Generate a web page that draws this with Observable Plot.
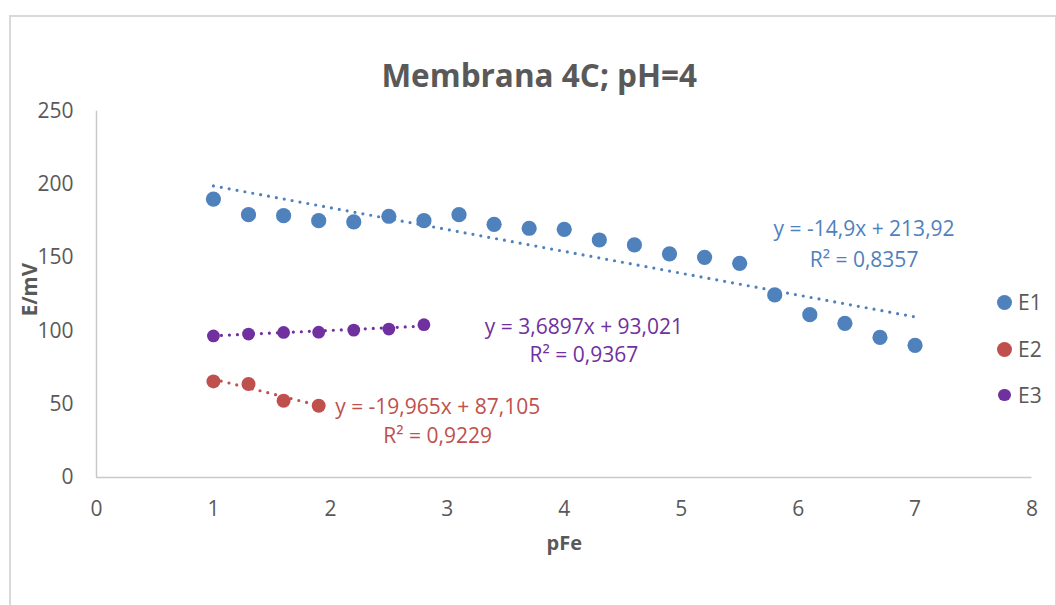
<!DOCTYPE html>
<html>
<head>
<meta charset="utf-8">
<script src="https://cdn.jsdelivr.net/npm/d3@7"></script>
<script src="https://cdn.jsdelivr.net/npm/@observablehq/plot@0.6"></script>
<style>
  html, body { margin: 0; padding: 0; background: #fff; }
  #wrap { position: relative; width: 1056px; height: 605px; overflow: hidden; font-family: "Open Sans", sans-serif; }
  #border { position: absolute; left: 9px; top: 15px; width: 1044px; height: 640px; border: 2px solid #d9d9d9; }
  #chart { position: absolute; left: 0; top: 0; }
  .leg { position: absolute; left: 0; top: 0; font-size: 21px; color: #595959; }
  .leg .sw { position: absolute; border-radius: 50%; }
  .leg .lab { position: absolute; transform: translateY(-50%); line-height: 1; }
</style>
</head>
<body>
<div id="wrap">
  <div id="border"></div>
  <div id="chart"></div>
  <div class="leg" id="legend"></div>
</div>
<script>
// ---------- data ----------
const title = "Membrana 4C; pH=4";
const xLabel = "pFe";
const yLabel = "E/mV";
const seriesNames = ["E1", "E2", "E3"];
const seriesColors = ["#4f81bd", "#c0504d", "#7030a0"];

const pFe_E1 = [1, 1.3, 1.6, 1.9, 2.2, 2.5, 2.8, 3.1, 3.4, 3.7, 4.0, 4.3, 4.6, 4.9, 5.2, 5.5, 5.8, 6.1, 6.4, 6.7, 7.0];
const E1 = [190, 179.4, 178.7, 175.3, 174.4, 178.3, 175.3, 179.4, 172.8, 170.1, 169.4, 162.1, 158.7, 152.6, 150.3, 146.2, 124.6, 111.1, 105.2, 95.6, 90.2];

const pFe_E2 = [1, 1.3, 1.6, 1.9];
const E2 = [65.6, 63.8, 52.4, 49.0];

const pFe_E3 = [1, 1.3, 1.6, 1.9, 2.2, 2.5, 2.8];
const E3 = [96.6, 97.9, 99.0, 99.2, 100.6, 101.3, 104.3];

// trendlines (linear, as labelled)
const trendSlope = [-14.9, -19.965, 3.6897];
const trendIntercept = [213.92, 87.105, 93.021];
const trendEq = ["y = -14,9x + 213,92", "y = -19,965x + 87,105", "y = 3,6897x + 93,021"];
const trendR2 = ["R² = 0,8357", "R² = 0,9229", "R² = 0,9367"];

const xTicks = [0, 1, 2, 3, 4, 5, 6, 7, 8];
const yTicks = [0, 50, 100, 150, 200, 250];

// ---------- build tables ----------
const xs = [pFe_E1, pFe_E2, pFe_E3];
const ys = [E1, E2, E3];
const points = seriesNames.map((s, i) => xs[i].map((x, j) => ({series: s, pFe: x, E: ys[i][j]})));
const trends = seriesNames.map((s, i) => {
  const x0 = d3.min(xs[i]), x1 = d3.max(xs[i]);
  return [x0, x1].map(x => ({series: s, pFe: x, E: trendSlope[i] * x + trendIntercept[i]}));
});
const trendEnds = trends.map((t, i) => ({...t[1], eq: trendEq[i], r2: trendR2[i]}));

// layout (label offsets from trend end, pixels)
const labelOffset = [
  {dx: -51, dy1: -88, dy2: -57},
  {dx: 119, dy1: 2, dy2: 30.5},
  {dx: 160, dy1: 1.3, dy2: 29.3}
];
const dotR = [7.6, 7.0, 6.4];
const txt = "#595959";

const marks = [
  Plot.ruleX([0], {stroke: "#c9c9c9", strokeWidth: 1.5}),
  Plot.ruleY([0], {stroke: "#c9c9c9", strokeWidth: 1.5}),
  Plot.axisX({ticks: xTicks, tickSize: 0, tickPadding: 24, fontSize: 21, fill: txt, label: null, tickFormat: d => String(d)}),
  Plot.axisY({ticks: yTicks, tickSize: 0, tickPadding: 23, fontSize: 21, fill: txt, label: null, tickFormat: d => String(d)}),
];
seriesNames.forEach((s, i) => {
  marks.push(Plot.dot(points[i], {x: "pFe", y: "E", r: dotR[i], fill: seriesColors[i], stroke: "none"}));
});
seriesNames.forEach((s, i) => {
  marks.push(Plot.line(trends[i], {x: "pFe", y: "E", stroke: seriesColors[i], strokeWidth: 3.2, strokeDasharray: "0 8", strokeLinecap: "round"}));
});
seriesNames.forEach((s, i) => {
  const o = labelOffset[i];
  marks.push(Plot.text([trendEnds[i]], {x: "pFe", y: "E", text: "eq", fill: seriesColors[i], fontSize: 21, dx: o.dx, dy: o.dy1, textAnchor: "middle"}));
  marks.push(Plot.text([trendEnds[i]], {x: "pFe", y: "E", text: "r2", fill: seriesColors[i], fontSize: 21, dx: o.dx, dy: o.dy2, textAnchor: "middle"}));
});
// title & axis titles
marks.push(Plot.text([title], {frameAnchor: "top", text: d => d, fontSize: 31.5, fontWeight: "bold", fill: txt, dx: -25, dy: -47}));
marks.push(Plot.text([xLabel], {frameAnchor: "bottom", text: d => d, fontSize: 20, fontWeight: "bold", fill: txt, dx: 0, dy: 72}));
marks.push(Plot.text([yLabel], {frameAnchor: "left", text: d => d, fontSize: 20.5, fontWeight: "bold", fill: txt, rotate: -90, dx: -66, dy: 22}));

const chart = Plot.plot({
  width: 1056,
  height: 605,
  marginLeft: 96,
  marginRight: 24.5,
  marginTop: 110.7,
  marginBottom: 128,
  x: {domain: [0, 8]},
  y: {domain: [0, 250]},
  style: {fontFamily: "'Open Sans', sans-serif", background: "transparent", overflow: "visible"},
  marks
});
document.getElementById("chart").appendChild(chart);

// legend
const legendPos = [{cx: 1004.3, cy: 302.3, d: 15}, {cx: 1004.3, cy: 349, d: 15}, {cx: 1004.3, cy: 395, d: 12.7}];
const leg = document.getElementById("legend");
seriesNames.forEach((s, i) => {
  const p = legendPos[i];
  const sw = document.createElement("div");
  sw.className = "sw";
  sw.style.left = (p.cx - p.d / 2) + "px";
  sw.style.top = (p.cy - p.d / 2) + "px";
  sw.style.width = p.d + "px";
  sw.style.height = p.d + "px";
  sw.style.background = seriesColors[i];
  const lab = document.createElement("div");
  lab.className = "lab";
  lab.style.left = "1018px";
  lab.style.top = p.cy + "px";
  lab.textContent = s;
  leg.appendChild(sw);
  leg.appendChild(lab);
});
</script>
</body>
</html>
